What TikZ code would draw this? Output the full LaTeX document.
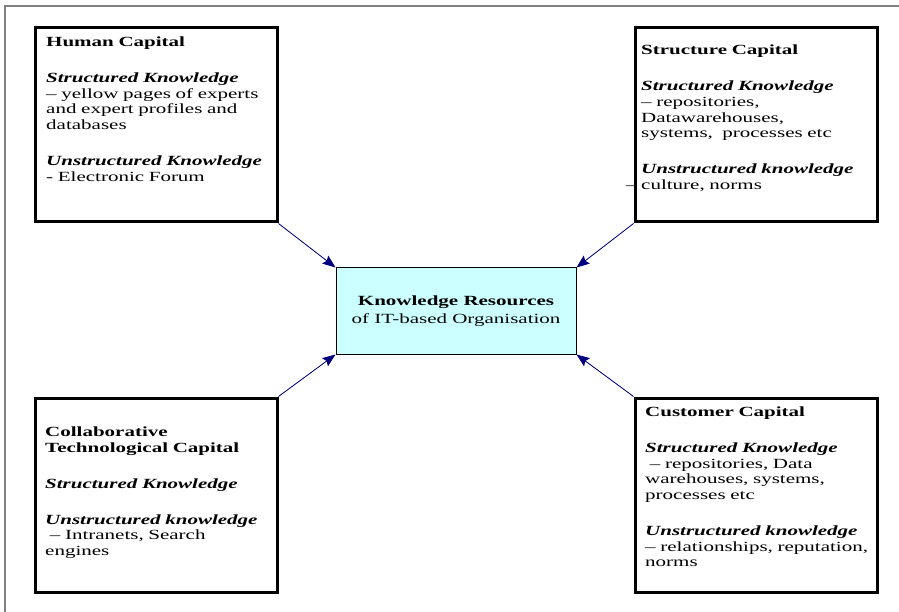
\documentclass[tikz,border=0pt]{standalone}
\usepackage{fontspec}
\setmainfont[FakeStretch=1.5]{Liberation Serif}
\usetikzlibrary{arrows.meta}
\definecolor{navyarrow}{HTML}{000080}
\definecolor{cyanfill}{HTML}{CCFFFF}
\definecolor{framegray}{HTML}{808080}
\tikzset{
  capbox/.style={draw=black, line width=3pt, minimum width=242pt, minimum height=194pt, inner sep=0pt},
  captext/.style={anchor=base west, inner sep=0pt, text width=250pt, align=left,
    font=\fontsize{14pt}{15.6pt}\selectfont},
  resbox/.style={draw=black, line width=1pt, fill=cyanfill, minimum width=240pt, minimum height=86pt,
    align=center, font=\fontsize{14pt}{17.5pt}\selectfont},
  arr/.style={draw=navyarrow, line width=0.8pt, -{Stealth[length=13pt,width=10pt,inset=2pt]}, fill=navyarrow}
}
\newcommand{\hd}[1]{\textbf{#1}}
\newcommand{\sk}[1]{\textbf{\textit{#1}}}
\begin{document}
\begin{tikzpicture}[x=1pt,y=-1pt]
\useasboundingbox (0,0) rectangle (899,612);
\fill[white] (0,0) rectangle (899,612);
\draw[framegray, line width=1.2pt] (5,620) -- (5,6) -- (905,6);

\node[capbox] (hum) at (156,125) {};
\node[capbox] (str) at (756,125) {};
\node[capbox] (col) at (156,495) {};
\node[capbox] (cus) at (756,495) {};

\node[captext] (humt) at (46,46.7) {\hd{Human Capital}\\[20.4pt]
\sk{Structured Knowledge}\\
– yellow pages of experts\\
and expert profiles and\\
databases\\[20.4pt]
\sk{Unstructured Knowledge}\\
- Electronic Forum};

\node[captext] (strt) at (641,55) {\hd{Structure Capital}\\[20.4pt]
\sk{Structured Knowledge}\\
– repositories,\\
Datawarehouses,\\
systems,\ \ processes etc\\[20.4pt]
\sk{Unstructured knowledge}\\
\leavevmode\llap{– }culture, norms};

\node[captext] (colt) at (45,436.7) {\hd{Collaborative}\\
\hd{Technological Capital}\\[20.4pt]
\sk{Structured Knowledge}\\[20.4pt]
\sk{Unstructured knowledge}\\
\ – Intranets, Search\\
engines};

\node[captext] (cust) at (645,416.7) {\hd{Customer Capital}\\[20.4pt]
\sk{Structured Knowledge}\\
\ – repositories, Data\\
warehouses, systems,\\
processes etc\\[20.4pt]
\sk{Unstructured knowledge}\\
– relationships, reputation,\\
norms};

\node[resbox] (res) at (456,311) {\hd{Knowledge Resources}\\of IT-based Organisation};

\draw[arr] (hum.south east) -- (res.north west);
\draw[arr] (str.south west) -- (res.north east);
\draw[arr] (col.north east) -- (res.south west);
\draw[arr] (cus.north west) -- (res.south east);
\end{tikzpicture}
\end{document}
